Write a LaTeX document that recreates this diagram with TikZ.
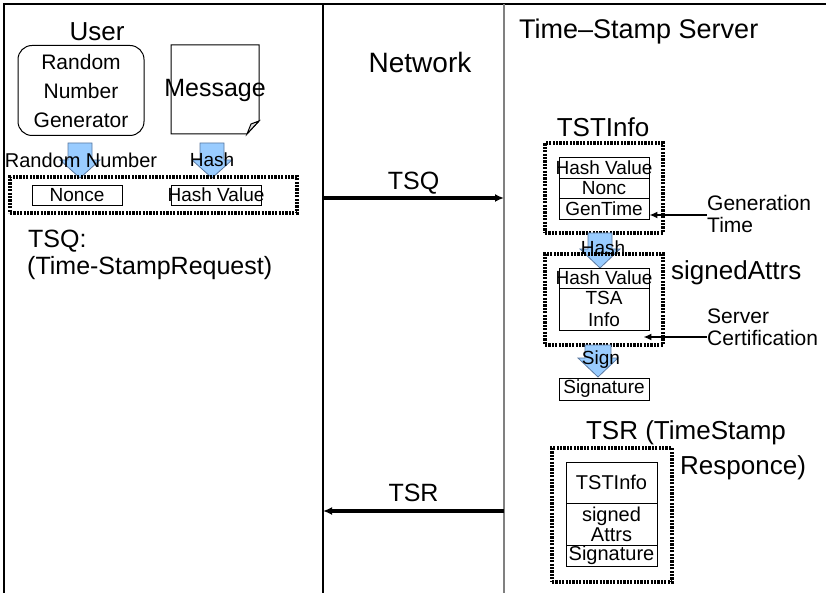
\documentclass[tikz,border=0pt]{standalone}
\usepackage{fontspec}
\setmainfont{Liberation Sans}
\usetikzlibrary{arrows.meta}

% font sizes (1pt = 1 unit of the picture)
\newcommand\fsHuge{\fontsize{28}{30}\selectfont}
\newcommand\fsBig{\fontsize{26}{30}\selectfont}
\newcommand\fsMid{\fontsize{25}{27}\selectfont}
\newcommand\fsGen{\fontsize{21}{29}\selectfont}
\newcommand\fsNote{\fontsize{21}{22}\selectfont}
\newcommand\fsCell{\fontsize{19}{21}\selectfont}

% downward block arrow: centre x, top y, head start y, tip y, shaft half width, head half width
\newcommand\blockdown[6]{%
  \draw[blockarrow] (#1-#5,#2) -- (#1+#5,#2) -- (#1+#5,#3) -- (#1+#6,#3)
    -- (#1,#4) -- (#1-#6,#3) -- (#1-#5,#3) -- cycle;}

\begin{document}
\begin{tikzpicture}[x=1pt,y=-1pt,
  lane/.style={line width=1.1pt},
  blockarrow/.style={fill={rgb,255:red,153;green,204;blue,255}, draw={rgb,255:red,90;green,120;blue,160}, line width=0.8pt},
  group/.style={draw, line width=3.4pt, dash pattern=on 2.2pt off 1.2pt, inner sep=0pt},
  cell/.style={draw, line width=0.9pt, inner sep=0pt, font=\fsCell},
  celltext/.style={inner sep=0pt, font=\fsCell, align=center},
  msgarrow/.style={line width=3.4pt, -{Latex[length=9pt,width=8pt]}},
  notearrow/.style={line width=1.8pt, -{Latex[length=8pt,width=7pt]}},
  every node/.style={inner sep=0pt}]
\useasboundingbox (0,0) rectangle (826,593);

% swim lanes
\draw[lane] (4,593) -- (4,4) -- (826,4);
\draw[lane] (323,4) -- (323,593);
\draw[lane, gray, line width=2pt] (504,4) -- (504,593);

\node[font=\fsBig] (user) at (97,32) {User};
\node[font=\fsHuge] (net) at (420,62) {Network};
\node[font=\fontsize{27}{30}\selectfont, anchor=west] (tss) at (519,32) {Time–Stamp Server};

% ---- user side ----
\node[draw, line width=1pt, rounded corners=14pt, minimum width=126pt, minimum height=90pt,
      align=center, font=\fsGen] (rng) at (81,90.5) {Random\\Number\\Generator};

\draw[line width=1pt] (171,45) -- (259,45) -- (259,121) -- (247,134) -- (171,134) -- cycle;
\draw[line width=1pt, fill=gray!25] (247,134) -- (251,124) -- (259,121) -- cycle;
\node[font=\fontsize{25}{28}\selectfont] (msg) at (215,90) {Message};

\blockdown{80}{143}{160}{178}{12}{20}
\blockdown{212}{143}{160}{178}{12}{20}
\node[font=\fontsize{20}{22}\selectfont] (rnlbl) at (81,160) {Random Number};
\node[font=\fsCell] (hashlbl) at (212,160) {Hash};

\node[group, minimum width=287pt, minimum height=36pt] (tsqgrp) at (153.5,195) {};
\node[cell, minimum width=90pt, minimum height=20pt] (nonce) at (77,195) {};
\node[celltext] at (nonce) {Nonce};
\node[cell, minimum width=90pt, minimum height=20pt] (hv) at (216,195) {};
\node[celltext] at (hv) {Hash Value};

\node[font=\fsMid, anchor=west] (tsqname) at (28,241) {TSQ:};
\node[font=\fsMid, anchor=west] (tsqlong) at (27,268) {(Time-StampRequest)};

% ---- messages over the network ----
\coordinate (tsqL) at (323,198);
\coordinate (tsqR) at (504,198);
\draw[msgarrow] (tsqL) -- (tsqR) node[midway, font=\fontsize{25}{28}\selectfont, yshift=15pt] (tsqlbl) {TSQ};
\coordinate (tsrR) at (504,511);
\coordinate (tsrL) at (323,511);
\draw[msgarrow] (tsrR) -- (tsrL) node[midway, font=\fontsize{25}{28}\selectfont, yshift=18pt] (tsrlbl) {TSR};

% ---- server side ----
\node[font=\fsBig] (tstname) at (603,127) {TSTInfo};
\node[group, minimum width=118pt, minimum height=90pt] (tstgrp) at (604,188) {};
\node[cell, minimum width=90pt, minimum height=21pt] (thv) at (604,167.5) {};
\node[celltext] at (thv) {Hash Value};
\node[cell, minimum width=90pt, minimum height=20pt] (tnonc) at (604,188) {};
\node[celltext] at (tnonc) {Nonc};
\node[cell, minimum width=90pt, minimum height=21pt] (tgen) at (604,208.5) {};
\node[celltext] at (tgen) {GenTime};

\node[font=\fsNote, anchor=west, align=left] (gentxt) at (707,214) {Generation\\Time};
\draw[notearrow] ([yshift=-1pt]gentxt.west) -- ([yshift=-1pt]gentxt.west -| tgen.east);

\blockdown{600}{233}{249}{268}{12}{20}
\node[font=\fsCell] (hash2) at (603,248) {Hash};

\node[group, minimum width=118pt, minimum height=91pt] (sagrp) at (604,299.5) {};
\node[cell, minimum width=90pt, minimum height=20pt] (shv) at (604,278) {};
\node[celltext] at (shv) {Hash Value};
\node[cell, minimum width=90pt, minimum height=42pt] (tsa) at (604,309) {};
\node[celltext, font=\fontsize{19}{22}\selectfont] at (tsa) {TSA\\Info};
\node[font=\fsBig, anchor=west] (saname) at (671,273) {signedAttrs};

\node[font=\fsNote, anchor=west, align=left] (srvtxt) at (707,327) {Server\\Certification};
\draw[notearrow] ([yshift=-10pt]srvtxt.west) -- ([xshift=-6pt,yshift=-10pt]srvtxt.west -| tsa.east);

\blockdown{598}{345}{358}{377}{13}{20}
\node[font=\fsCell] (signlbl) at (601,360) {Sign};
\node[cell, minimum width=90pt, minimum height=22pt] (sig) at (604,389) {};
\node[celltext] at (sig) {Signature};

\node[font=\fsBig] (tsrname) at (686,433) {TSR (TimeStamp};
\node[font=\fsBig, anchor=west] (tsrname2) at (680,468) {Responce)};
\node[group, minimum width=120pt, minimum height=134pt] (tsrgrp) at (612,515) {};
\node[cell, minimum width=91pt, minimum height=41pt] (rtst) at (611.5,482.5) {};
\node[celltext, font=\fontsize{20}{22}\selectfont] at (rtst) {TSTInfo};
\node[cell, minimum width=91pt, minimum height=42pt] (rsa) at (611.5,524) {};
\node[celltext, font=\fontsize{20}{20}\selectfont] at (rsa) {signed\\Attrs};
\node[cell, minimum width=91pt, minimum height=21pt] (rsig) at (611.5,555.5) {};
\node[celltext, font=\fontsize{20}{22}\selectfont] at (rsig) {Signature};
\end{tikzpicture}
\end{document}
